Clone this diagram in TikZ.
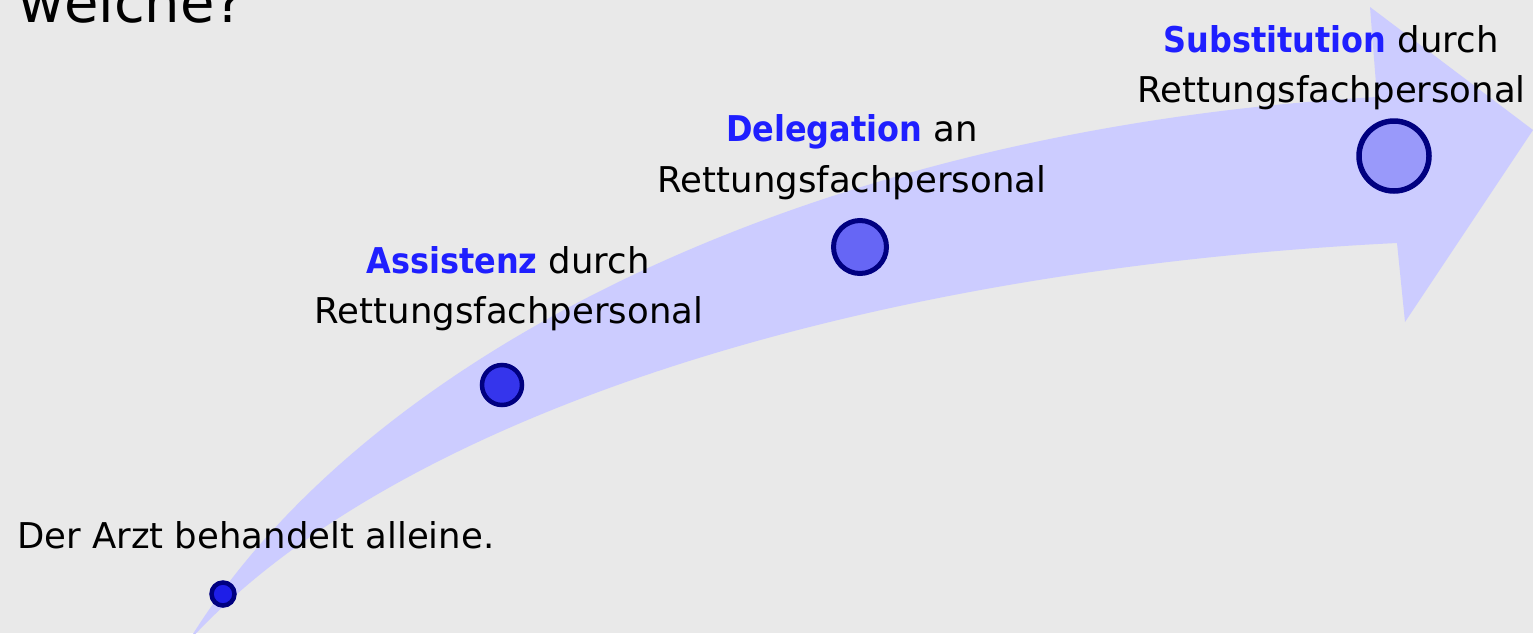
\documentclass[tikz,border=0pt]{standalone}
\usepackage{fontspec}
\setmainfont{DejaVu Sans}
\newfontfamily\kwfont{DejaVu Sans Condensed}
\definecolor{bg}{HTML}{E9E9E9}
\definecolor{arrowfill}{HTML}{CCCCFF}
\definecolor{ring}{HTML}{000080}
\definecolor{kw}{HTML}{1F1FFF}
\definecolor{f0}{HTML}{1E1EE8}
\definecolor{f1}{HTML}{3535EC}
\definecolor{f2}{HTML}{6666F5}
\definecolor{f3}{HTML}{9999FA}
\newcommand{\kwtext}[1]{\textcolor{kw}{\kwfont\bfseries #1}}
\tikzset{
  lbl/.style={anchor=base, inner sep=0pt, font=\fontsize{35.5}{42}\selectfont, text=black},
  dot/.style={circle, draw=ring, inner sep=0pt, outer sep=0pt},
}
\begin{document}
\begin{tikzpicture}[x=1pt,y=-1pt]
\useasboundingbox (0,0) rectangle (1533,633);
\fill[bg] (0,0) rectangle (1533,633);
% big curved arrow
\fill[arrowfill] (188,642) .. controls (360,360) and (800,130) .. (1377,97)
  -- (1370,7) -- (1533,130) -- (1405,322) -- (1397,243)
  .. controls (850,270) and (390,420) .. (188,642) -- cycle;
% title fragment
\node[anchor=base west, inner sep=0pt, font=\fontsize{56}{60}\selectfont] (title) at (18,22) {welche?};
% labels
\node[lbl, anchor=base west] (l0) at (17,548) {Der Arzt behandelt alleine.};
\node[lbl] (l1a) at (508,273) {\kwtext{Assistenz} durch};
\node[lbl] (l1b) at (509,323) {Rettungsfachpersonal};
\node[lbl] (l2a) at (852,141) {\kwtext{Delegation} an};
\node[lbl] (l2b) at (852,192) {Rettungsfachpersonal};
\node[lbl] (l3a) at (1331,52) {\kwtext{Substitution} durch};
\node[lbl] (l3b) at (1331.5,102) {Rettungsfachpersonal};
% circles
\node[dot, fill=f0, line width=4.5pt, minimum size=23pt] (c0) at (223,594) {};
\node[dot, fill=f1, line width=4.5pt, minimum size=40pt] (c1) at (502,385) {};
\node[dot, fill=f2, line width=5pt, minimum size=53pt] (c2) at (860,247) {};
\node[dot, fill=f3, line width=5.5pt, minimum size=70pt] (c3) at (1394,156) {};
\end{tikzpicture}
\end{document}
